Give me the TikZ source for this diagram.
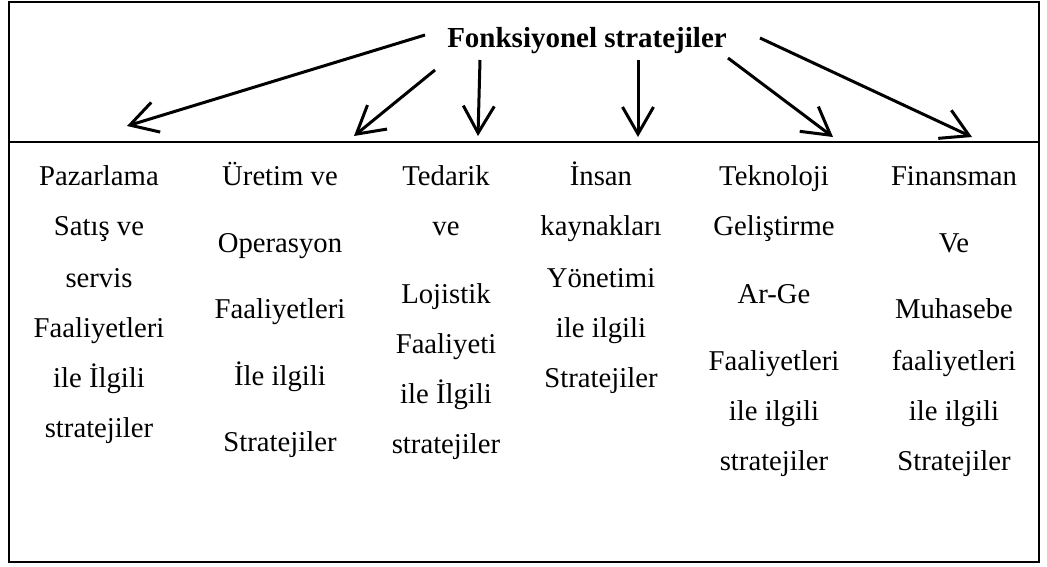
\documentclass[tikz,border=0pt]{standalone}
\usepackage{fontspec}
\setmainfont{Liberation Serif}
\usetikzlibrary{arrows.meta}

\begin{document}
\begin{tikzpicture}[x=1pt,y=-1pt,
  frame/.style={line width=2.4pt},
  link/.style={line width=3pt,-{Straight Barb[length=27pt,width=31pt,line width=3pt]}},
  entry/.style={anchor=base,inner sep=0pt,font=\fontsize{28.7}{34}\selectfont},
  heading/.style={anchor=base,inner sep=0pt,font=\fontsize{29}{34}\selectfont\bfseries}]
  \useasboundingbox (0,0) rectangle (1047,566);

  % outer frame and the rule under the heading
  \draw[frame] (9,2) rectangle (1039,562);
  \draw[frame] (9,142) -- (1039,142);

  \node[heading] (title) at (587,47) {Fonksiyonel stratejiler};

  % arrow ends
  \coordinate (t1) at (425,35);  \coordinate (h1) at (127,126);
  \coordinate (t2) at (435,70);  \coordinate (h2) at (354,136);
  \coordinate (t3) at (480,60);  \coordinate (h3) at (478,136);
  \coordinate (t4) at (638,60);  \coordinate (h4) at (638,137);
  \coordinate (t5) at (728,58);  \coordinate (h5) at (833,137);
  \coordinate (t6) at (760,38);  \coordinate (h6) at (972,137);
  \foreach \i in {1,...,6} \draw[link] (t\i) -- (h\i);

  % strategy columns
  \foreach \y/\t [count=\i] in {185/Pazarlama, 235/Satış ve, 287/servis,
      337/Faaliyetleri, 387/ile İlgili, 437/stratejiler}
    \node[entry] (pz\i) at (99,\y) {\t};
  \foreach \y/\t [count=\i] in {185/Üretim ve, 252/Operasyon, 318/Faaliyetleri,
      385/İle ilgili, 451/Stratejiler}
    \node[entry] (ur\i) at (280,\y) {\t};
  \foreach \y/\t [count=\i] in {185/Tedarik, 235/ve, 303/Lojistik,
      353/Faaliyeti, 403/ile İlgili, 453/stratejiler}
    \node[entry] (td\i) at (446,\y) {\t};
  \foreach \y/\t [count=\i] in {185/İnsan, 235/kaynakları, 287/Yönetimi,
      337/ile ilgili, 387/Stratejiler}
    \node[entry] (ik\i) at (601,\y) {\t};
  \foreach \y/\t [count=\i] in {185/Teknoloji, 235/Geliştirme, 303/Ar-Ge,
      370/Faaliyetleri, 420/ile ilgili, 470/stratejiler}
    \node[entry] (tk\i) at (774,\y) {\t};
  \foreach \y/\t [count=\i] in {185/Finansman, 252/Ve, 318/Muhasebe,
      370/faaliyetleri, 420/ile ilgili, 470/Stratejiler}
    \node[entry] (fn\i) at (954,\y) {\t};
\end{tikzpicture}
\end{document}
